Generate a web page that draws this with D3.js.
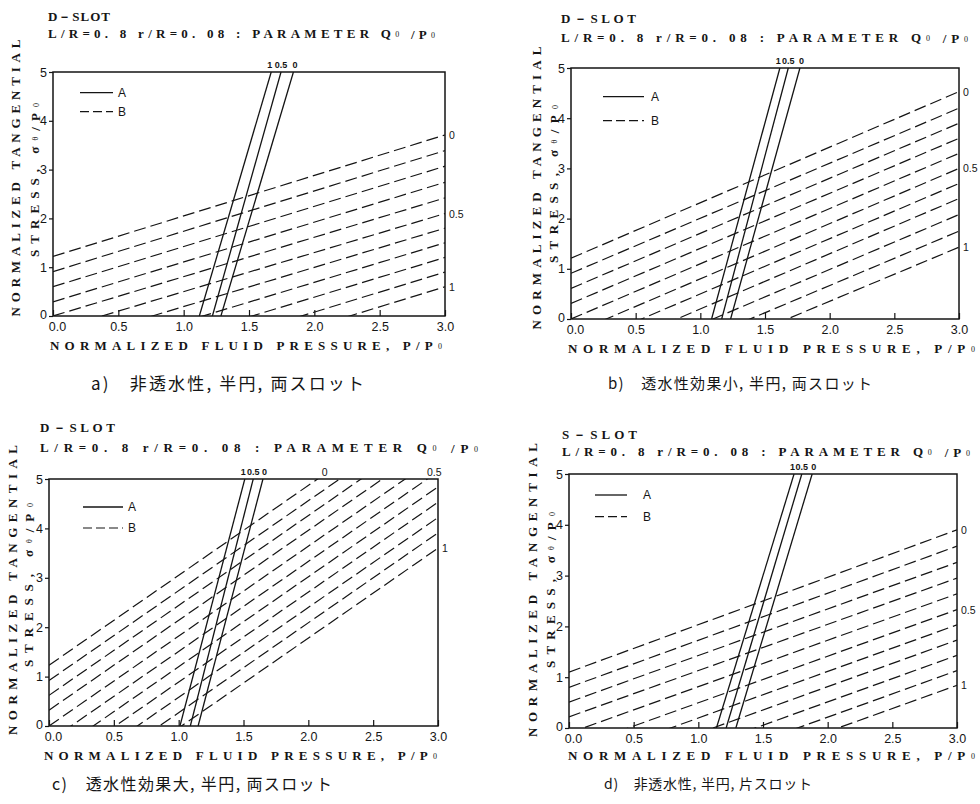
<!DOCTYPE html>
<html>
<head>
<meta charset="utf-8">
<script src="https://cdn.jsdelivr.net/npm/d3@7"></script>
<style>
  body { margin: 0; background: #fff; }
  text, tspan { fill: #151515; }
</style>
</head>
<body>
<svg id="fig" width="980" height="804"></svg>
<script>
// shared axes
const xTicks = [0, 0.5, 1, 1.5, 2, 2.5, 3];
const yTicks = [0, 1, 2, 3, 4, 5];
const qValues = [0, 0.1, 0.2, 0.3, 0.4, 0.5, 0.6, 0.7, 0.8, 0.9, 1.0];   // Q0/P0 of the dashed (B) lines
const qMarked = { 0: '0', 5: '0.5', 10: '1' };
const solidQ = ['1', '0.5', '0'];                                          // Q0/P0 of the solid (A) lines

// a) 非透水性, 半円, 両スロット   dashed: sigma at P=0 and at P=3 ; solid: P at sigma=0 and sigma=5
const aDashAt0 = [1.22, 0.91, 0.60, 0.29, 0.00, -0.30, -0.61, -0.93, -1.24, -1.56, -1.87];
const aDashAt3 = [3.71, 3.39, 3.07, 2.74, 2.42, 2.10, 1.80, 1.50, 1.20, 0.90, 0.60];
const aSolidAt0 = [1.12, 1.22, 1.285];
const aSolidAt5 = [1.67, 1.745, 1.84];

// b) 透水性効果小
const bDashAt0 = [1.21, 0.91, 0.61, 0.31, 0.00, -0.30, -0.60, -0.90, -1.20, -1.50, -1.80];
const bDashAt3 = [4.53, 4.20, 3.90, 3.60, 3.30, 3.00, 2.70, 2.40, 2.08, 1.75, 1.43];
const bSolidAt0 = [1.087, 1.165, 1.234];
const bSolidAt5 = [1.615, 1.68, 1.77];

// c) 透水性効果大
const cDashAt0 = [1.23, 0.92, 0.62, 0.32, 0.00, -0.31, -0.62, -0.93, -1.24, -1.55, -1.86];
const cDashAt3 = [6.69, 6.38, 6.08, 5.78, 5.46, 5.15, 4.84, 4.53, 4.22, 3.91, 3.60];
const cSolidAt0 = [1.01, 1.09, 1.15];
const cSolidAt5 = [1.51, 1.575, 1.65];

// d) 非透水性, 片スロット
const dDashAt0 = [1.10, 0.80, 0.51, 0.22, -0.10, -0.42, -0.72, -1.02, -1.32, -1.62, -1.90];
const dDashAt3 = [3.90, 3.58, 3.26, 2.95, 2.64, 2.33, 2.03, 1.73, 1.43, 1.13, 0.84];
const dSolidAt0 = [1.14, 1.215, 1.29];
const dSolidAt5 = [1.74, 1.80, 1.88];

const captions = ['a)　非透水性, 半円, 両スロット', 'b)　透水性効果小, 半円, 両スロット',
  'c)　透水性効果大, 半円, 両スロット', 'd)　非透水性, 半円, 片スロット'];
const slotNames = ['D－SLOT', 'D－SLOT', 'D－SLOT', 'S－SLOT'];

const ink = '#141414';
const serif = '"Liberation Serif", "DejaVu Serif", serif';
const sans = '"Liberation Sans", "DejaVu Sans", sans-serif';
const cjk = '"Noto Sans CJK JP", sans-serif';

const panels = [
  { id: 'a', dash0: aDashAt0, dash3: aDashAt3, solid0: aSolidAt0, solid5: aSolidAt5, name: slotNames[0], cap: captions[0],
    box: { x0: 53, x1: 445, y0: 316, y1: 72 }, head: { x: 48, y1: 16, y2: 33, w1: 62, w2: 387 },
    xlab: { x0: 50, x1: 442, y: 345 }, ylab: { xo: 15, xi: 34, co: 178, lo: 277, ci: 180, li: 154 },
    legend: { x1: 80, x2: 113, ya: 92.7, yb: 111.7, tx: 118 }, capPos: { x: 91, w: 273, y: 382, fs: 17 } },
  { id: 'b', dash0: bDashAt0, dash3: bDashAt3, solid0: bSolidAt0, solid5: bSolidAt5, name: slotNames[1], cap: captions[1],
    box: { x0: 571, x1: 959, y0: 319, y1: 68 }, head: { x: 561, y1: 18, y2: 37, w1: 75, w2: 407 },
    xlab: { x0: 568, x1: 975, y: 348 }, ylab: { xo: 536, xi: 553, co: 188, lo: 283, ci: 184, li: 158 },
    legend: { x1: 603, x2: 644, ya: 96.7, yb: 120.7, tx: 651 }, capPos: { x: 608, w: 264, y: 382, fs: 15 } },
  { id: 'c', dash0: cDashAt0, dash3: cDashAt3, solid0: cSolidAt0, solid5: cSolidAt5, name: slotNames[2], cap: captions[2],
    box: { x0: 49, x1: 438, y0: 726, y1: 479 }, head: { x: 40, y1: 427, y2: 447, w1: 75, w2: 438 },
    xlab: { x0: 44, x1: 437, y: 755 }, ylab: { xo: 12, xi: 28, co: 590, lo: 290, ci: 585, li: 164 },
    legend: { x1: 83, x2: 123, ya: 507, yb: 528, tx: 128 }, capPos: { x: 52, w: 280, y: 783, fs: 16 } },
  { id: 'd', dash0: dDashAt0, dash3: dDashAt3, solid0: dSolidAt0, solid5: dSolidAt5, name: slotNames[3], cap: captions[3],
    box: { x0: 569, x1: 957, y0: 728, y1: 474 }, head: { x: 562, y1: 434, y2: 451, w1: 75, w2: 408 },
    xlab: { x0: 568, x1: 975, y: 755 }, ylab: { xo: 532, xi: 550, co: 590, lo: 294, ci: 590, li: 156 },
    legend: { x1: 595, x2: 627, ya: 495, yb: 516.7, tx: 643 }, capPos: { x: 604, w: 208, y: 783, fs: 14 } }
];

const svg = d3.select('#fig');
svg.append('rect').attr('width', 980).attr('height', 804).attr('fill', '#fff');

panels.forEach(p => drawPanel(p));

function sub (sel, s) {
  // small lowered character, as in Q0 / P0 / sigma-theta
  sel.append('tspan').attr('font-size', 8).attr('font-weight', 'normal').attr('fill', ink)
    .attr('dy', 1).text(s);
  sel.append('tspan').attr('dy', -1).text('');
}

function drawPanel (p) {
  const x = d3.scaleLinear().domain([0, 3]).range([p.box.x0, p.box.x1]);
  const y = d3.scaleLinear().domain([0, 5]).range([p.box.y0, p.box.y1]);
  const line = d3.line().x(d => x(d[0])).y(d => y(d[1]));
  const g = svg.append('g').attr('class', 'panel-' + p.id);

  g.append('clipPath').attr('id', 'clip-' + p.id)
    .append('rect').attr('x', x(0)).attr('y', y(5))
    .attr('width', x(3) - x(0)).attr('height', y(0) - y(5));

  const plot = g.append('g').attr('clip-path', `url(#clip-${p.id})`);
  plot.selectAll('.dash').data(qValues).enter().append('path')
    .attr('class', 'dash')
    .attr('d', (q, i) => line([[0, p.dash0[i]], [3, p.dash3[i]]]))
    .attr('fill', 'none').attr('stroke', ink).attr('stroke-width', 1.2)
    .attr('stroke-dasharray', '12,5');
  plot.selectAll('.solid').data(solidQ).enter().append('path')
    .attr('class', 'solid')
    .attr('d', (q, i) => line([[p.solid0[i], 0], [p.solid5[i], 5]]))
    .attr('fill', 'none').attr('stroke', ink).attr('stroke-width', 1.3);

  // frame
  g.append('rect').attr('x', x(0)).attr('y', y(5))
    .attr('width', x(3) - x(0)).attr('height', y(0) - y(5))
    .attr('fill', 'none').attr('stroke', ink).attr('stroke-width', 1.5);

  // axes
  const ax = g.append('g').attr('transform', `translate(0,${y(0)})`)
    .call(d3.axisBottom(x).tickValues(xTicks).tickSizeInner(-6).tickSizeOuter(0).tickPadding(6)
      .tickFormat(d3.format('.1f')));
  ax.select('.domain').remove();
  ax.selectAll('line').attr('stroke', ink).attr('stroke-width', 1.2);
  ax.selectAll('text').attr('font-family', sans).attr('font-size', 12.5).attr('fill', ink)
    .attr('dx', d => d === 0 ? 4 : 0);

  const ay = g.append('g').attr('transform', `translate(${x(0)},0)`)
    .call(d3.axisLeft(y).tickValues(yTicks).tickSizeInner(4).tickSizeOuter(0).tickPadding(2)
      .tickFormat(d3.format('d')));
  ay.select('.domain').remove();
  ay.selectAll('line').attr('stroke', ink).attr('stroke-width', 1.2);
  ay.selectAll('text').attr('font-family', sans).attr('font-size', 12.5).attr('fill', ink)
    .attr('y', d => d === 0 ? -2 : 0);

  // labels of the solid lines along the top edge
  g.selectAll('.solidLab').data(solidQ).enter().append('text')
    .attr('x', (q, i) => x(p.solid5[i]) + (i - 1) * 1.5).attr('y', y(5) - 7)
    .attr('text-anchor', 'middle').attr('dominant-baseline', 'central')
    .attr('font-family', sans).attr('font-size', 9).attr('font-weight', 'bold').text(q => q);

  // labels of dashed lines: on the right edge, or on the top edge if the line leaves there
  Object.keys(qMarked).forEach(k => {
    const i = +k;
    const a = p.dash0[i];
    const b = p.dash3[i];
    if (b <= 5) {
      g.append('text').attr('x', x(3) + 4).attr('y', y(b))
        .attr('dominant-baseline', 'central').attr('font-family', sans).attr('font-size', 10.5)
        .text(qMarked[k]);
    } else {
      const px = 3 * (5 - a) / (b - a);
      g.append('text').attr('x', x(px) + 7).attr('y', y(5) - 7)
        .attr('text-anchor', 'middle').attr('dominant-baseline', 'central')
        .attr('font-family', sans).attr('font-size', 10.5).text(qMarked[k]);
    }
  });

  // legend
  const lg = g.append('g');
  lg.append('line').attr('x1', p.legend.x1).attr('x2', p.legend.x2)
    .attr('y1', p.legend.ya).attr('y2', p.legend.ya).attr('stroke', ink).attr('stroke-width', 1.3);
  lg.append('line').attr('x1', p.legend.x1).attr('x2', p.legend.x2)
    .attr('y1', p.legend.yb).attr('y2', p.legend.yb).attr('stroke', ink).attr('stroke-width', 1.2)
    .attr('stroke-dasharray', '9,4');
  lg.append('text').attr('x', p.legend.tx).attr('y', p.legend.ya).attr('dominant-baseline', 'central')
    .attr('font-family', sans).attr('font-size', 12).text('A');
  lg.append('text').attr('x', p.legend.tx).attr('y', p.legend.yb).attr('dominant-baseline', 'central')
    .attr('font-family', sans).attr('font-size', 12).text('B');

  // header
  g.append('text').attr('x', p.head.x).attr('y', p.head.y1).attr('dominant-baseline', 'central')
    .attr('font-family', serif).attr('font-weight', 'bold').attr('font-size', 13)
    .attr('textLength', p.head.w1).attr('lengthAdjust', 'spacing').text(p.name);
  const h2 = g.append('text').attr('x', p.head.x).attr('y', p.head.y2).attr('dominant-baseline', 'central')
    .attr('font-family', serif).attr('font-weight', 'bold').attr('font-size', 13)
    .attr('textLength', p.head.w2).attr('lengthAdjust', 'spacing');
  h2.append('tspan').text('L/R=0. 8   r/R=0. 08 : PARAMETER   Q');
  sub(h2, '0');
  h2.append('tspan').text(' /P');
  sub(h2, '0');

  // x axis title
  const xt = g.append('text').attr('x', p.xlab.x0).attr('y', p.xlab.y).attr('dominant-baseline', 'central')
    .attr('font-family', serif).attr('font-weight', 'bold').attr('font-size', 13)
    .attr('textLength', p.xlab.x1 - p.xlab.x0).attr('lengthAdjust', 'spacing');
  xt.append('tspan').text('NORMALIZED  FLUID  PRESSURE, P/P');
  sub(xt, '0');

  // y axis title, two rotated lines
  g.append('text').attr('transform', `translate(${p.ylab.xo},${p.ylab.co}) rotate(-90)`)
    .attr('x', -p.ylab.lo / 2).attr('dominant-baseline', 'central')
    .attr('font-family', serif).attr('font-weight', 'bold').attr('font-size', 13)
    .attr('textLength', p.ylab.lo).attr('lengthAdjust', 'spacing')
    .text('NORMALIZED  TANGENTIAL');
  const yt = g.append('text').attr('transform', `translate(${p.ylab.xi},${p.ylab.ci}) rotate(-90)`)
    .attr('x', -p.ylab.li / 2).attr('dominant-baseline', 'central')
    .attr('font-family', serif).attr('font-weight', 'bold').attr('font-size', 13)
    .attr('textLength', p.ylab.li).attr('lengthAdjust', 'spacing');
  yt.append('tspan').text('STRESS, σ');
  sub(yt, 'θ');
  yt.append('tspan').text('/P');
  sub(yt, '0');

  // caption
  g.append('text').attr('x', p.capPos.x).attr('y', p.capPos.y).attr('dominant-baseline', 'central')
    .attr('font-family', cjk).attr('font-size', p.capPos.fs)
    .attr('textLength', p.capPos.w).attr('lengthAdjust', 'spacing').text(p.cap);
}
</script>
</body>
</html>
